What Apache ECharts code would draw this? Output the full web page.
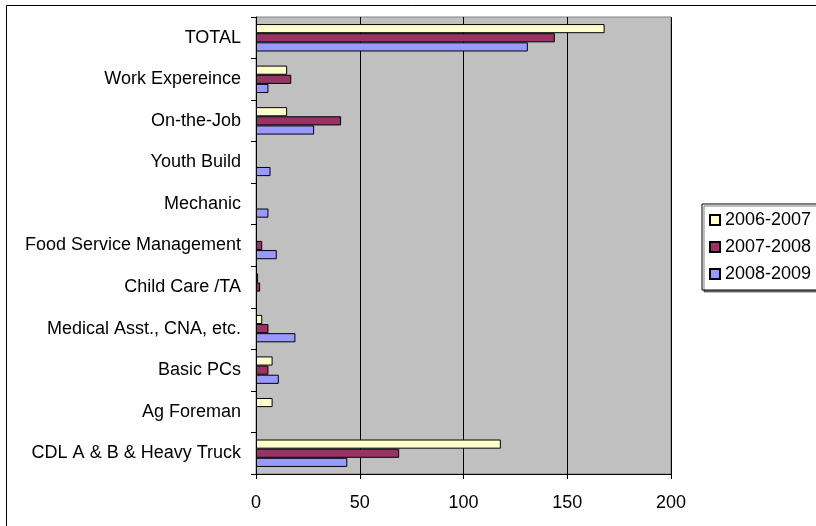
<!DOCTYPE html>
<html>
<head>
<meta charset="utf-8">
<script src="https://cdn.jsdelivr.net/npm/echarts@6/dist/echarts.min.js"></script>
<style>
html,body{margin:0;padding:0;background:#fff;}
#c{width:816px;height:526px;}
</style>
</head>
<body>
<div id="c"></div>
<script>
const categories = ["TOTAL","Work Expereince","On-the-Job","Youth Build","Mechanic","Food Service Management","Child Care /TA","Medical Asst., CNA, etc.","Basic PCs","Ag Foreman","CDL A & B & Heavy Truck"];
const seriesNames = ["2006-2007","2007-2008","2008-2009"];
const s2006 = [168, 15, 15, 0, 0, 0, 1, 3, 8, 8, 118];
const s2007 = [144, 17, 41, 0, 0, 3, 2, 6, 6, 0, 69];
const s2008 = [131, 6, 28, 7, 6, 10, 0, 19, 11, 0, 44];
const xTicks = [0, 50, 100, 150, 200];
const colors = ["#FFFFCC","#993366","#9999FF"];

const font = "'Liberation Sans', Arial, sans-serif";
const chart = echarts.init(document.getElementById('c'));
const mk = (name, data, i) => ({
  name: name, type: 'bar', data: data.map(v => v === 0 ? '-' : v), barGap: '0%', barCategoryGap: '34%',
  itemStyle: {color: colors[i], borderColor: '#000', borderWidth: 1},
  emphasis: {disabled: true}
});
chart.setOption({
  animation: false,
  textStyle: {fontFamily: font},
  graphic: [{type: 'rect', shape: {x: 6.5, y: 5.5, width: 830, height: 540}, style: {fill: 'none', stroke: '#000', lineWidth: 1}, z: -1}],
  grid: {left: 256, right: 145, top: 17, bottom: 52, show: true, backgroundColor: '#C0C0C0', borderColor: '#808080', borderWidth: 1},
  legend: {
    orient: 'vertical', left: 702, top: 204, padding: [7, 40, 7, 7], itemGap: 9,
    itemWidth: 10, itemHeight: 10, icon: 'rect', borderColor: '#000', borderWidth: 1,
    backgroundColor: '#fff', shadowColor: 'rgba(0,0,0,0.5)', shadowOffsetX: 2, shadowOffsetY: 2, shadowBlur: 0,
    textStyle: {fontSize: 18, color: '#000', fontFamily: font},
    data: seriesNames
  },
  xAxis: {
    type: 'value', min: xTicks[0], max: xTicks[xTicks.length-1], interval: 50,
    axisLine: {show: true, lineStyle: {color: '#000'}},
    axisTick: {show: true, length: 5, lineStyle: {color: '#000'}},
    axisLabel: {fontSize: 18, color: '#000', margin: 20, fontFamily: font},
    splitLine: {show: true, lineStyle: {color: '#000', width: 1}}
  },
  yAxis: {
    type: 'category', data: categories, inverse: true,
    axisLine: {show: true, lineStyle: {color: '#000'}},
    axisTick: {show: true, length: 5, lineStyle: {color: '#000'}},
    axisLabel: {fontSize: 18, color: '#000', margin: 15, fontFamily: font}
  },
  series: [mk(seriesNames[0], s2006, 0), mk(seriesNames[1], s2007, 1), mk(seriesNames[2], s2008, 2)]
});
</script>
</body>
</html>
